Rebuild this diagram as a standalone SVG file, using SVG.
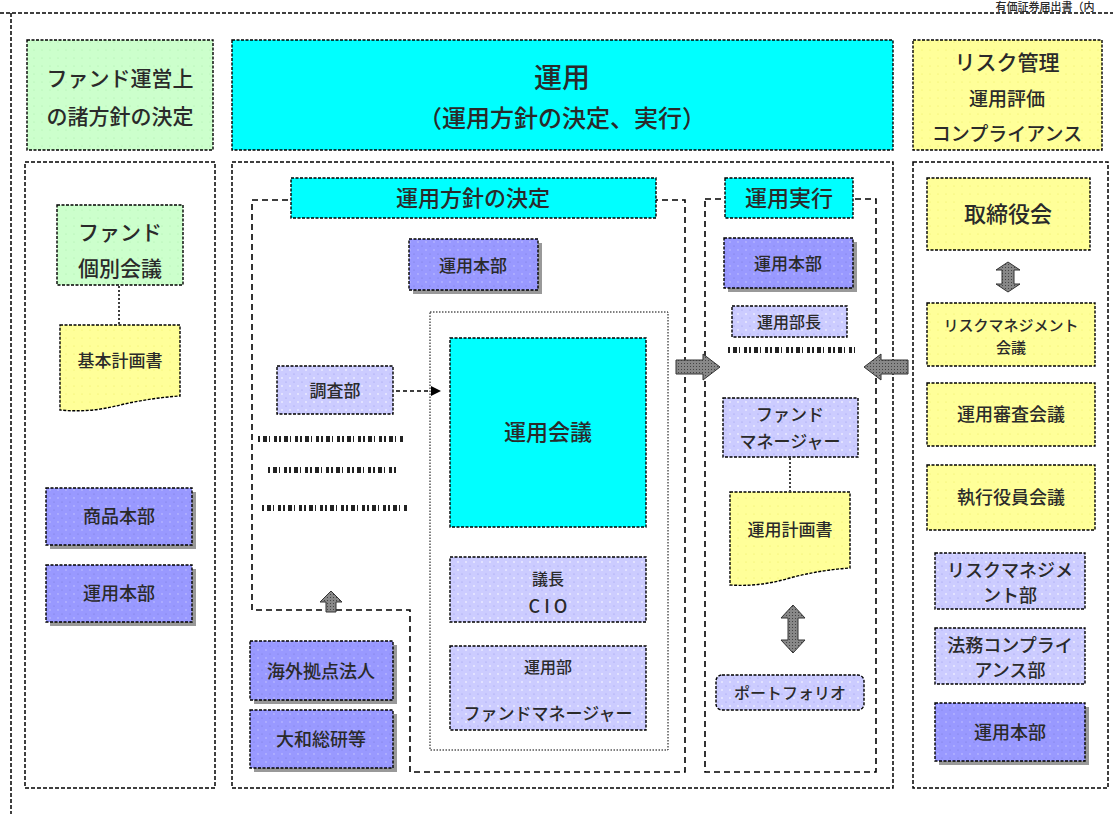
<svg xmlns="http://www.w3.org/2000/svg" width="1113" height="814" viewBox="0 0 1113 814">
<defs>
<pattern id="dotL" width="8" height="8" patternUnits="userSpaceOnUse"><rect width="8" height="8" fill="#ccccff"/><circle cx="2" cy="2" r="0.8" fill="#ffffff"/><circle cx="6" cy="6" r="0.6" fill="#9999ee"/></pattern>
<pattern id="dotD" width="8" height="8" patternUnits="userSpaceOnUse"><rect width="8" height="8" fill="#9999ff"/><circle cx="2" cy="2" r="0.7" fill="#ccccff"/><circle cx="6" cy="6" r="0.6" fill="#7777dd"/></pattern>
<pattern id="dotY" width="8" height="8" patternUnits="userSpaceOnUse"><rect width="8" height="8" fill="#ffff99"/><circle cx="2" cy="2" r="0.6" fill="#eeee66"/></pattern>
<pattern id="dotG" width="8" height="8" patternUnits="userSpaceOnUse"><rect width="8" height="8" fill="#ccffcc"/><circle cx="2" cy="2" r="0.6" fill="#aaeeaa"/></pattern>
<pattern id="hatch" width="3" height="3" patternUnits="userSpaceOnUse"><rect width="3" height="3" fill="#888"/><rect width="1" height="1" fill="#444"/></pattern>
</defs>
<style>
text{font-family:"Noto Sans CJK JP","Noto Sans",sans-serif;fill:#2a2a2a;text-anchor:middle;font-weight:500}
.frame{fill:none;stroke:#000;stroke-width:1.5;stroke-dasharray:4 2}
.region{fill:none;stroke:#000;stroke-width:1.6;stroke-dasharray:6 4}
.box{stroke:#000;stroke-width:1.4;stroke-dasharray:3 1.5}
.lt{fill:url(#dotL)}
.dk{fill:url(#dotD)}
.yl{fill:url(#dotY)}
.gr{fill:url(#dotG)}
.cy{fill:#00ffff}
.sh{fill:#999}
.t15{font-size:15px}
.t16{font-size:16px}
.t17{font-size:17px}
.t18{font-size:18px}
.t19{font-size:19px}
.t21{font-size:21px}
.t22{font-size:22px}
.blk{fill:url(#hatch);stroke:#333;stroke-width:1}
.garble{fill:none;stroke:#222;stroke-width:6;stroke-dasharray:2 3 4 2 1 4 3 2}
</style>

<text x="1045" y="11" style="font-size:11px">有価証券届出書（内</text>

<g id="outer-frame">
<line x1="0" y1="13" x2="1113" y2="13" class="frame"/>
<line x1="11" y1="13" x2="11" y2="814" class="frame"/>
</g>

<g id="hdr-left"><rect x="27" y="40" width="186" height="110" class="box gr"/><text x="120" y="86" class="t21">ファンド運営上</text><text x="120" y="124" class="t21">の諸方針の決定</text></g>
<g id="hdr-mid"><rect x="232" y="40" width="661" height="110" class="box cy"/><text x="562" y="88" style="font-size:28px">運用</text><text x="562" y="127" style="font-size:24px">（運用方針の決定、実行）</text></g>
<g id="hdr-right"><rect x="913" y="40" width="189" height="110" class="box yl"/><text x="1007" y="70" class="t21">リスク管理</text><text x="1007" y="106" class="t19">運用評価</text><text x="1007" y="141" class="t19">コンプライアンス</text></g>

<g id="col-left"><rect x="25" y="162" width="190" height="626" class="frame"/></g>
<g id="col-mid"><rect x="232" y="162" width="661" height="626" class="frame"/></g>
<g id="col-right"><rect x="913" y="162" width="195" height="626" class="frame"/></g>

<g id="region-decision"><path d="M252,610 V200 H685 V772 H410 V610 Z" class="region"/></g>
<g id="region-exec"><rect x="705" y="199" width="171" height="573" class="region"/></g>
<g id="inner-meeting"><rect x="430" y="312" width="238" height="438" fill="#fff" stroke="#000" stroke-width="1" stroke-dasharray="1.5 1.5"/></g>

<g id="lbl-decision"><rect x="291" y="178" width="365" height="40" class="box cy"/><text x="473" y="206" class="t22">運用方針の決定</text></g>
<g id="lbl-exec"><rect x="725" y="178" width="128" height="40" class="box cy"/><text x="789" y="206" class="t22">運用実行</text></g>

<g id="n-honbu1"><rect x="413" y="243" width="129" height="51" class="sh"/><rect x="409" y="239" width="129" height="51" class="box dk"/><text x="473" y="272" class="t17">運用本部</text></g>
<g id="n-kaigi"><rect x="450" y="338" width="196" height="189" class="box cy" stroke-dasharray="none"/><text x="548" y="440" class="t22">運用会議</text></g>
<g id="n-cio"><rect x="450" y="557" width="196" height="65" class="box lt"/><text x="548" y="585" class="t16">議長</text><text x="548" y="613" class="t18">C I O</text></g>
<g id="n-fm1"><rect x="450" y="646" width="196" height="84" class="box lt"/><text x="548" y="673" class="t16">運用部</text><text x="548" y="720" class="t17">ファンドマネージャー</text></g>
<g id="n-chosa"><rect x="277" y="366" width="116" height="48" class="box lt"/><text x="335" y="397" class="t17">調査部</text></g>
<g id="n-garble"><line x1="258" y1="439" x2="405" y2="439" class="garble"/><line x1="268" y1="470" x2="398" y2="470" class="garble"/><line x1="262" y1="508" x2="408" y2="508" class="garble"/></g>
<g id="n-kaigai"><rect x="254" y="645" width="143" height="59" class="sh"/><rect x="250" y="641" width="143" height="59" class="box dk"/><text x="321" y="678" class="t18">海外拠点法人</text></g>
<g id="n-soken"><rect x="254" y="714" width="143" height="58" class="sh"/><rect x="250" y="710" width="143" height="58" class="box dk"/><text x="321" y="746" class="t18">大和総研等</text></g>

<g id="n-honbu2"><rect x="728" y="242" width="129" height="50" class="sh"/><rect x="724" y="238" width="129" height="50" class="box dk"/><text x="788" y="270" class="t17">運用本部</text></g>
<g id="n-buchou"><rect x="732" y="306" width="115" height="31" class="box lt"/><text x="789" y="328" class="t16">運用部長</text></g>
<g id="n-garble2"><line x1="728" y1="350" x2="855" y2="350" class="garble"/></g>
<g id="n-fm2"><rect x="723" y="398" width="135" height="59" class="box lt"/><text x="790" y="421" class="t17">ファンド</text><text x="790" y="448" class="t17">マネージャー</text></g>
<g id="n-keikaku"><path d="M730,492 H850 V568 Q820,570 790,578 Q760,587 730,585 Z" class="box yl"/><text x="790" y="536" class="t17">運用計画書</text></g>
<g id="n-pf"><rect x="716" y="675" width="148" height="35" rx="6" class="box lt"/><text x="790" y="699" class="t16">ポートフォリオ</text></g>

<g id="n-fund"><rect x="57" y="205" width="126" height="80" class="box gr"/><text x="120" y="240" class="t21">ファンド</text><text x="120" y="276" class="t21">個別会議</text></g>
<g id="n-kihon"><path d="M60,325 H180 V396 Q150,398 120,405 Q90,413 60,410 Z" class="box yl"/><text x="120" y="367" class="t17">基本計画書</text></g>
<g id="n-shohin"><rect x="50" y="492" width="146" height="57" class="sh"/><rect x="46" y="488" width="146" height="57" class="box dk"/><text x="119" y="523" class="t18">商品本部</text></g>
<g id="n-honbu3"><rect x="50" y="569" width="146" height="57" class="sh"/><rect x="46" y="565" width="146" height="57" class="box dk"/><text x="119" y="600" class="t18">運用本部</text></g>

<g id="n-torishimari"><rect x="927" y="178" width="163" height="72" class="box yl"/><text x="1008" y="222" class="t22">取締役会</text></g>
<g id="n-rmkaigi"><rect x="927" y="303" width="168" height="63" class="box yl"/><text x="1011" y="331" class="t15">リスクマネジメント</text><text x="1011" y="353" class="t15">会議</text></g>
<g id="n-shinsa"><rect x="927" y="383" width="168" height="63" class="box yl"/><text x="1011" y="421" class="t18">運用審査会議</text></g>
<g id="n-shikkou"><rect x="927" y="465" width="168" height="65" class="box yl"/><text x="1011" y="504" class="t18">執行役員会議</text></g>
<g id="n-rmbu"><rect x="935" y="553" width="150" height="56" class="box lt"/><text x="1010" y="577" class="t18">リスクマネジメ</text><text x="1010" y="602" class="t18">ント部</text></g>
<g id="n-houmu"><rect x="935" y="628" width="150" height="56" class="box lt"/><text x="1010" y="652" class="t18">法務コンプライ</text><text x="1010" y="677" class="t18">アンス部</text></g>
<g id="n-honbu4"><rect x="939" y="707" width="150" height="58" class="sh"/><rect x="935" y="703" width="150" height="58" class="box dk"/><text x="1010" y="739" class="t18">運用本部</text></g>

<g id="connectors">
<line x1="119" y1="286" x2="119" y2="324" stroke="#000" stroke-width="1.5" stroke-dasharray="2 2"/>
<line x1="790" y1="458" x2="790" y2="491" stroke="#000" stroke-width="1.5" stroke-dasharray="2 2"/>
<line x1="396" y1="391" x2="432" y2="391" stroke="#000" stroke-width="1.5" stroke-dasharray="4 3"/>
<path d="M441,391 L431,386 L431,396 Z" fill="#000"/>
<path d="M676,360 H703 V354 L720,367 L703,380 V374 H676 Z" class="blk"/>
<path d="M908,360 H881 V354 L864,367 L881,380 V374 H908 Z" class="blk"/>
<path d="M326,612 V602 H320 L331,591 L342,602 H336 V612 Z" class="blk"/>
<path d="M788,618 H781 L793,605 L805,618 H798 V640 H805 L793,653 L781,640 H788 Z" class="blk"/>
<path d="M1002,270 H996 L1008,262 L1020,270 H1014 V284 H1020 L1008,292 L996,284 H1002 Z" class="blk"/>
</g>
</svg>
